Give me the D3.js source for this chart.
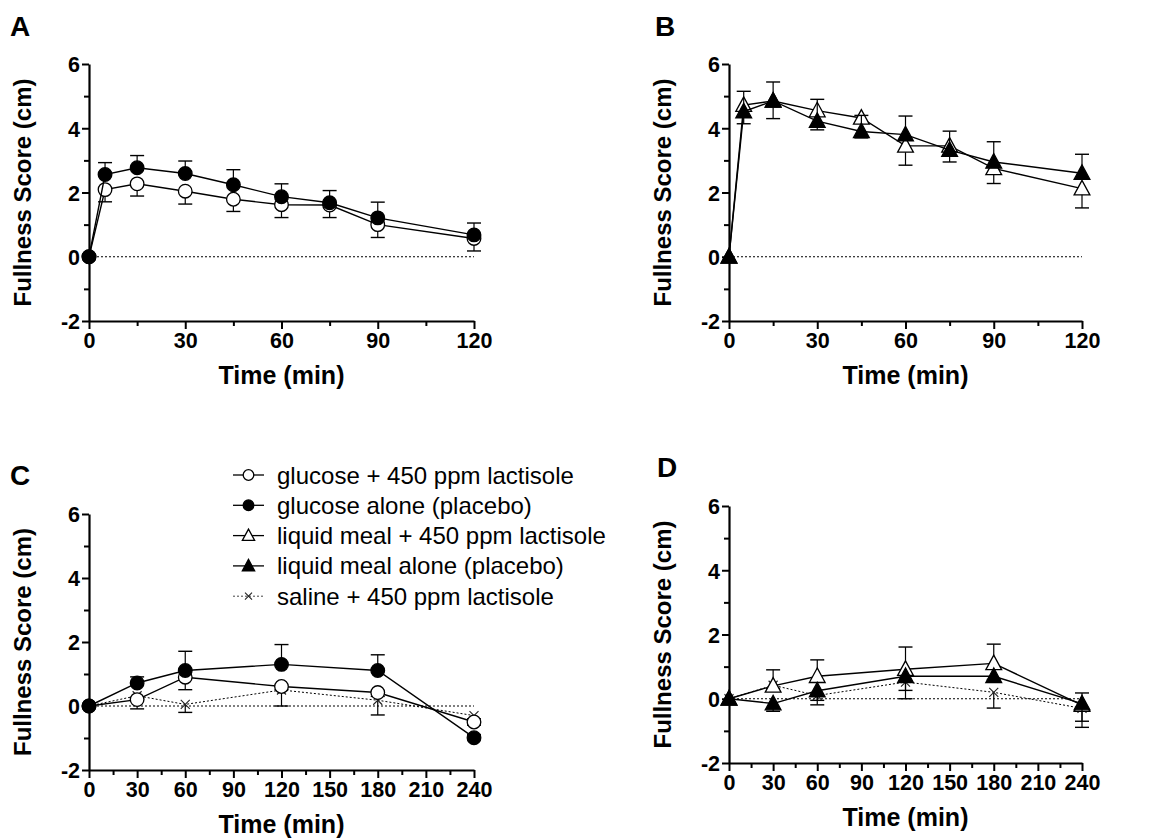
<!DOCTYPE html>
<html>
<head>
<meta charset="utf-8">
<script src="https://cdn.jsdelivr.net/npm/d3@7"></script>
<style>
  html, body { margin: 0; padding: 0; background: #fff; }
  svg { display: block; }
  text { font-family: "Liberation Sans", Arial, Helvetica, sans-serif; }
</style>
</head>
<body>
<svg id="fig" width="1151" height="839"></svg>
<script>
// ---- data: fullness scores (cm), mean and SEM ----
const timesShort = [0, 5, 15, 30, 45, 60, 75, 90, 120];
const timesLong  = [0, 30, 60, 120, 180, 240];

const yTicksMajor = [-2, 0, 2, 4, 6];
const yTicksMinor = [-1, 1, 3, 5];
const xTicksShortMajor = [0, 30, 60, 90, 120];
const xTicksShortMinor = [15, 45, 75, 105];
const xTicksLongMajor = [0, 30, 60, 90, 120, 150, 180, 210, 240];
const xTicksLongMinor = [15, 45, 75, 105, 135, 165, 195, 225];

// Panel A: intraduodenal glucose
const glucoseLactA     = [0, 2.09, 2.27, 2.04, 1.79, 1.62, 1.61, 1.00, 0.57];
const glucoseLactA_sem = [0, 0.38, 0.38, 0.40, 0.38, 0.40, 0.39, 0.40, 0.39];
const glucoseAloneA     = [0, 2.56, 2.77, 2.59, 2.24, 1.87, 1.68, 1.21, 0.68];
const glucoseAloneA_sem = [0, 0.37, 0.38, 0.39, 0.47, 0.40, 0.38, 0.49, 0.37];

// Panel B: intraduodenal liquid meal
const mealLactB     = [0, 4.72, 4.85, 4.55, 4.32, 3.45, 3.45, 2.75, 2.12];
const mealLactB_sem = [0, 0.58, 0.55, 0.60, 0.62, 0.60, 0.50, 0.47, 0.60];
const mealAloneB     = [0, 4.52, 4.85, 4.22, 3.90, 3.80, 3.32, 2.95, 2.60];
const mealAloneB_sem = [0, 0.63, 0.59, 0.68, 0.50, 0.58, 0.59, 0.63, 0.59];

// Panel C: oral glucose
const glucoseLactC     = [0, 0.20, 0.90, 0.61, 0.42, -0.50];
const glucoseLactC_sem = [0, 0.29, 0.39, 0.10, 0.12, 0.10];
const glucoseAloneC     = [0, 0.72, 1.11, 1.30, 1.11, -0.99];
const glucoseAloneC_sem = [0, 0.19, 0.60, 0.62, 0.49, 0.10];
const salineC     = [0, 0.32, 0.05, 0.50, 0.18, -0.30];
const salineC_sem = [0, 0.10, 0.25, 0.50, 0.46, 0.10];

// Panel D: oral liquid meal
const mealLactD     = [0, 0.40, 0.70, 0.92, 1.10, -0.20];
const mealLactD_sem = [0, 0.50, 0.51, 0.69, 0.60, 0.38];
const mealAloneD     = [0, -0.15, 0.25, 0.70, 0.70, -0.15];
const mealAloneD_sem = [0, 0.24, 0.44, 0.44, 0.10, 0.74];
const salineD     = [0, 0.42, 0.10, 0.52, 0.20, -0.30];
const salineD_sem = [0, 0.10, 0.15, 0.52, 0.49, 0.40];

const legendLabels = [
  "glucose + 450 ppm lactisole",
  "glucose alone (placebo)",
  "liquid meal + 450 ppm lactisole",
  "liquid meal alone (placebo)",
  "saline + 450 ppm lactisole"
];
const legendSymbols = ["circleOpen", "circleFilled", "triOpen", "triFilled", "cross"];

// ---- drawing ----
const svg = d3.select("#fig");
const FONT = '"Liberation Sans", Arial, Helvetica, sans-serif';

// pair each time point with its mean and SEM; dir = side of the one-sided error bar
function makeSeries(times, vals, sems, symbol, dir, dotted) {
  return { points: times.map((t, i) => ({ t, v: vals[i], s: sems[i] })), symbol, dir, dotted };
}

const panels = [
  { letter: "A", left: 89, right: 474, top: 64, bottom: 321, xMax: 120,
    xMajor: xTicksShortMajor, xMinor: xTicksShortMinor, letterX: 10, letterY: 36,
    series: [
      makeSeries(timesShort, glucoseLactA, glucoseLactA_sem, "circleOpen", -1, false),
      makeSeries(timesShort, glucoseAloneA, glucoseAloneA_sem, "circleFilled", 1, false)
    ] },
  { letter: "B", left: 729, right: 1082, top: 64, bottom: 321, xMax: 120,
    xMajor: xTicksShortMajor, xMinor: xTicksShortMinor, letterX: 655, letterY: 36,
    series: [
      makeSeries(timesShort, mealLactB, mealLactB_sem, "triOpen", -1, false),
      makeSeries(timesShort, mealAloneB, mealAloneB_sem, "triFilled", 1, false)
    ] },
  { letter: "C", left: 89, right: 474, top: 514, bottom: 770, xMax: 240,
    xMajor: xTicksLongMajor, xMinor: xTicksLongMinor, letterX: 10, letterY: 485,
    series: [
      makeSeries(timesLong, salineC, salineC_sem, "cross", -1, true),
      makeSeries(timesLong, glucoseLactC, glucoseLactC_sem, "circleOpen", -1, false),
      makeSeries(timesLong, glucoseAloneC, glucoseAloneC_sem, "circleFilled", 1, false)
    ] },
  { letter: "D", left: 729, right: 1082, top: 506, bottom: 763, xMax: 240,
    xMajor: xTicksLongMajor, xMinor: xTicksLongMinor, letterX: 657, letterY: 477,
    series: [
      makeSeries(timesLong, salineD, salineD_sem, "cross", -1, true),
      makeSeries(timesLong, mealLactD, mealLactD_sem, "triOpen", 1, false),
      makeSeries(timesLong, mealAloneD, mealAloneD_sem, "triFilled", -1, false)
    ] }
];

function drawSymbol(g, type, x, y, scale) {
  const k = scale || 1;
  if (type === "circleOpen" || type === "circleFilled") {
    g.append("circle").attr("cx", x).attr("cy", y).attr("r", 6.8 * k)
      .attr("fill", type === "circleFilled" ? "#000" : "#fff")
      .attr("stroke", "#000").attr("stroke-width", 1.3);
  } else if (type === "triOpen" || type === "triFilled") {
    const s = 8.3 * k;
    const pts = [[x, y - s], [x - s * 0.95, y + s * 0.75], [x + s * 0.95, y + s * 0.75]];
    g.append("path").attr("d", d3.line()(pts) + "Z")
      .attr("fill", type === "triFilled" ? "#000" : "#fff")
      .attr("stroke", "#000").attr("stroke-width", 1.3).attr("stroke-linejoin", "miter");
  } else if (type === "cross") {
    const s = 4.5 * k;
    g.append("path").attr("d", `M${x - s},${y - s}L${x + s},${y + s}M${x - s},${y + s}L${x + s},${y - s}`)
      .attr("stroke", "#222").attr("stroke-width", 1.1).attr("fill", "none");
  }
}

panels.forEach(p => {
  const x = d3.scaleLinear().domain([0, p.xMax]).range([p.left, p.right]);
  const y = d3.scaleLinear().domain([-2, 6]).range([p.bottom, p.top]);
  const g = svg.append("g");

  // panel letter
  g.append("text").attr("x", p.letterX).attr("y", p.letterY)
    .attr("font-size", 28).attr("font-weight", "bold").text(p.letter);

  // zero reference line
  g.append("line").attr("x1", x(0)).attr("x2", x(p.xMax)).attr("y1", y(0)).attr("y2", y(0))
    .attr("stroke", "#000").attr("stroke-width", 1.1).attr("stroke-dasharray", "2,2");

  // y axis
  const yAxis = d3.axisLeft(y).tickValues(yTicksMajor).tickSize(7).tickSizeOuter(0)
    .tickPadding(2).tickFormat(d => String(d));
  const ya = g.append("g").attr("transform", `translate(${p.left},0)`).call(yAxis);
  g.append("g").attr("transform", `translate(${p.left},0)`)
    .call(d3.axisLeft(y).tickValues(yTicksMinor).tickSize(5).tickSizeOuter(0).tickFormat(""))
    .call(a => a.select(".domain").remove())
    .selectAll("line").attr("stroke-width", 2);

  // x axis
  const xAxis = d3.axisBottom(x).tickValues(p.xMajor).tickSize(8).tickSizeOuter(0)
    .tickPadding(4).tickFormat(d => String(d));
  const xa = g.append("g").attr("transform", `translate(0,${p.bottom})`).call(xAxis);
  g.append("g").attr("transform", `translate(0,${p.bottom})`)
    .call(d3.axisBottom(x).tickValues(p.xMinor).tickSize(5).tickSizeOuter(0).tickFormat(""))
    .call(a => a.select(".domain").remove())
    .selectAll("line").attr("stroke-width", 2);

  [ya, xa].forEach(a => {
    a.select(".domain").attr("stroke-width", 2.2).attr("stroke", "#000");
    a.selectAll(".tick line").attr("stroke-width", 2).attr("stroke", "#000");
    a.selectAll(".tick text").attr("font-size", 21.5).attr("font-weight", "bold")
      .attr("font-family", FONT).attr("fill", "#000");
  });
  ya.selectAll(".tick text").attr("dy", "0.36em");

  // axis titles
  g.append("text").attr("x", (p.left + p.right) / 2).attr("y", p.bottom + 63)
    .attr("text-anchor", "middle").attr("font-size", 25).attr("font-weight", "bold")
    .text("Time (min)");
  g.append("text")
    .attr("transform", `translate(${p.left - 58},${(p.top + p.bottom) / 2}) rotate(-90)`)
    .attr("text-anchor", "middle").attr("font-size", 24).attr("font-weight", "bold")
    .text("Fullness Score (cm)");

  // series: error bars, lines, markers
  const line = d3.line().x(d => x(d.t)).y(d => y(d.v));
  p.series.forEach(s => {
    const sg = g.append("g");
    s.points.forEach(d => {
      if (!d.s) return;
      const y0 = y(d.v), y1 = y(d.v + s.dir * d.s), cx = x(d.t);
      sg.append("line").attr("x1", cx).attr("x2", cx).attr("y1", y0).attr("y2", y1)
        .attr("stroke", "#000").attr("stroke-width", 1.2);
      sg.append("line").attr("x1", cx - 7).attr("x2", cx + 7).attr("y1", y1).attr("y2", y1)
        .attr("stroke", "#000").attr("stroke-width", 1.4);
    });
    sg.append("path").attr("d", line(s.points)).attr("fill", "none")
      .attr("stroke", "#000").attr("stroke-width", s.dotted ? 1 : 1.4)
      .attr("stroke-dasharray", s.dotted ? "2,2" : null);
    s.points.forEach(d => drawSymbol(sg, s.symbol, x(d.t), y(d.v)));
  });
});

// legend (placed beside panel C)
const lg = svg.append("g");
legendLabels.forEach((lab, i) => {
  const cy = 475 + i * 30.3;
  const row = lg.append("g");
  row.append("line").attr("x1", 233).attr("x2", 264).attr("y1", cy).attr("y2", cy)
    .attr("stroke", i === 4 ? "#444" : "#000").attr("stroke-width", i === 4 ? 1 : 1.3)
    .attr("stroke-dasharray", i === 4 ? "2,2" : null);
  drawSymbol(row, legendSymbols[i], 248.5, cy, 0.78);
  row.append("text").attr("x", 277).attr("y", cy + 8.5).attr("font-size", 24)
    .attr("fill", "#000").text(lab);
});
</script>
</body>
</html>
